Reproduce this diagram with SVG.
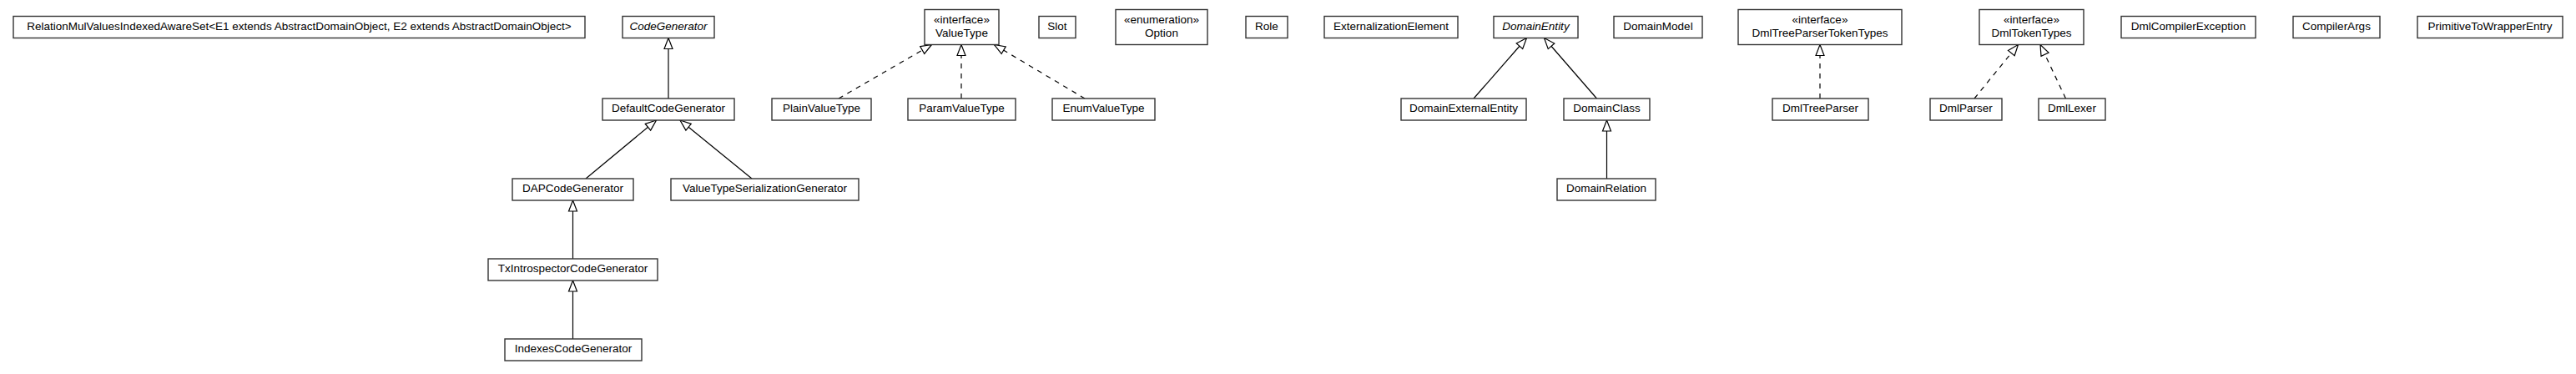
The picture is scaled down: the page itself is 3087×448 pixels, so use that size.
<svg xmlns="http://www.w3.org/2000/svg" width="3087" height="448" viewBox="0 0 3087 448">
<style>
.box{fill:#fff;stroke:#333;stroke-width:1.4}
text{font-family:"Liberation Sans",Arial,sans-serif;font-size:13.5px;fill:#000;text-anchor:middle}
.it{font-style:italic}
.edge{fill:none;stroke:#000;stroke-width:1.2}
.dash{stroke-dasharray:6,6}
</style>
<defs>
<marker id="tri" markerUnits="userSpaceOnUse" markerWidth="16" markerHeight="14" viewBox="0 0 16 14" refX="14.5" refY="7" orient="auto">
<path d="M1.5,2 L14.5,7 L1.5,12 Z" fill="#fff" stroke="#000" stroke-width="1.2" stroke-dasharray="none"/>
</marker>
</defs>
<rect width="3087" height="448" fill="#fff"/>
<g id="connectors">
<line class="edge" x1="801" y1="118" x2="801" y2="45.5" marker-end="url(#tri)"/>
<line class="edge" x1="702" y1="214" x2="786.5" y2="144" marker-end="url(#tri)"/>
<line class="edge" x1="901" y1="214" x2="815" y2="144" marker-end="url(#tri)"/>
<line class="edge" x1="686.5" y1="310" x2="686.5" y2="240" marker-end="url(#tri)"/>
<line class="edge" x1="686.5" y1="406" x2="686.5" y2="336" marker-end="url(#tri)"/>
<line class="edge dash" x1="1005" y1="118" x2="1116.5" y2="53.5" marker-end="url(#tri)"/>
<line class="edge dash" x1="1152" y1="118" x2="1152" y2="53.5" marker-end="url(#tri)"/>
<line class="edge dash" x1="1300" y1="118" x2="1191.5" y2="53.5" marker-end="url(#tri)"/>
<line class="edge" x1="1766" y1="118" x2="1829.5" y2="45.5" marker-end="url(#tri)"/>
<line class="edge" x1="1913.5" y1="118" x2="1850.5" y2="45.5" marker-end="url(#tri)"/>
<line class="edge" x1="1925.5" y1="214" x2="1925.5" y2="144" marker-end="url(#tri)"/>
<line class="edge dash" x1="2181" y1="118" x2="2181" y2="53.5" marker-end="url(#tri)"/>
<line class="edge dash" x1="2366" y1="118" x2="2418.5" y2="53.5" marker-end="url(#tri)"/>
<line class="edge dash" x1="2475.5" y1="118" x2="2445" y2="53.5" marker-end="url(#tri)"/>
</g>
<g id="RelationMulValuesIndexedAwareSet"><rect class="box" x="16" y="19.5" width="685" height="26"/><text x="358.5" y="36">RelationMulValuesIndexedAwareSet&lt;E1 extends AbstractDomainObject, E2 extends AbstractDomainObject&gt;</text></g>
<g id="CodeGenerator"><rect class="box" x="746" y="19.5" width="110" height="26"/><text class="it" x="801" y="36">CodeGenerator</text></g>
<g id="DefaultCodeGenerator"><rect class="box" x="722" y="118" width="158" height="26"/><text x="801" y="134">DefaultCodeGenerator</text></g>
<g id="DAPCodeGenerator"><rect class="box" x="614" y="214" width="145" height="26"/><text x="686.5" y="230">DAPCodeGenerator</text></g>
<g id="ValueTypeSerializationGenerator"><rect class="box" x="804" y="214" width="225" height="26"/><text x="916.5" y="230">ValueTypeSerializationGenerator</text></g>
<g id="TxIntrospectorCodeGenerator"><rect class="box" x="585" y="310" width="203" height="26"/><text x="686.5" y="326">TxIntrospectorCodeGenerator</text></g>
<g id="IndexesCodeGenerator"><rect class="box" x="605" y="406" width="164" height="26"/><text x="687" y="422">IndexesCodeGenerator</text></g>
<g id="ValueType"><rect class="box" x="1108" y="11.5" width="89" height="42"/><text x="1152.5" y="27.5">«interface»</text><text x="1152.5" y="43.5">ValueType</text></g>
<g id="PlainValueType"><rect class="box" x="925" y="118" width="119" height="26"/><text x="984.5" y="134">PlainValueType</text></g>
<g id="ParamValueType"><rect class="box" x="1088" y="118" width="129" height="26"/><text x="1152.5" y="134">ParamValueType</text></g>
<g id="EnumValueType"><rect class="box" x="1261" y="118" width="123" height="26"/><text x="1322.5" y="134">EnumValueType</text></g>
<g id="Slot"><rect class="box" x="1245" y="19.5" width="44" height="26"/><text x="1267" y="36">Slot</text></g>
<g id="Option"><rect class="box" x="1337" y="11.5" width="110" height="42"/><text x="1392" y="27.5">«enumeration»</text><text x="1392" y="43.5">Option</text></g>
<g id="Role"><rect class="box" x="1493" y="19.5" width="50" height="26"/><text x="1518" y="36">Role</text></g>
<g id="ExternalizationElement"><rect class="box" x="1587" y="19.5" width="160" height="26"/><text x="1667" y="36">ExternalizationElement</text></g>
<g id="DomainEntity"><rect class="box" x="1790" y="19.5" width="101" height="26"/><text class="it" x="1840.5" y="36">DomainEntity</text></g>
<g id="DomainModel"><rect class="box" x="1934" y="19.5" width="106" height="26"/><text x="1987" y="36">DomainModel</text></g>
<g id="DomainExternalEntity"><rect class="box" x="1679" y="118" width="150" height="26"/><text x="1754" y="134">DomainExternalEntity</text></g>
<g id="DomainClass"><rect class="box" x="1874" y="118" width="103" height="26"/><text x="1925.5" y="134">DomainClass</text></g>
<g id="DomainRelation"><rect class="box" x="1866" y="214" width="118" height="26"/><text x="1925" y="230">DomainRelation</text></g>
<g id="DmlTreeParserTokenTypes"><rect class="box" x="2083" y="11.5" width="196" height="42"/><text x="2181" y="27.5">«interface»</text><text x="2181" y="43.5">DmlTreeParserTokenTypes</text></g>
<g id="DmlTreeParser"><rect class="box" x="2124" y="118" width="115" height="26"/><text x="2181.5" y="134">DmlTreeParser</text></g>
<g id="DmlTokenTypes"><rect class="box" x="2372" y="11.5" width="125" height="42"/><text x="2434.5" y="27.5">«interface»</text><text x="2434.5" y="43.5">DmlTokenTypes</text></g>
<g id="DmlParser"><rect class="box" x="2313" y="118" width="86" height="26"/><text x="2356" y="134">DmlParser</text></g>
<g id="DmlLexer"><rect class="box" x="2443" y="118" width="80" height="26"/><text x="2483" y="134">DmlLexer</text></g>
<g id="DmlCompilerException"><rect class="box" x="2542" y="19.5" width="161" height="26"/><text x="2622.5" y="36">DmlCompilerException</text></g>
<g id="CompilerArgs"><rect class="box" x="2748" y="19.5" width="104" height="26"/><text x="2800" y="36">CompilerArgs</text></g>
<g id="PrimitiveToWrapperEntry"><rect class="box" x="2897" y="19.5" width="174" height="26"/><text x="2984" y="36">PrimitiveToWrapperEntry</text></g>
</svg>
